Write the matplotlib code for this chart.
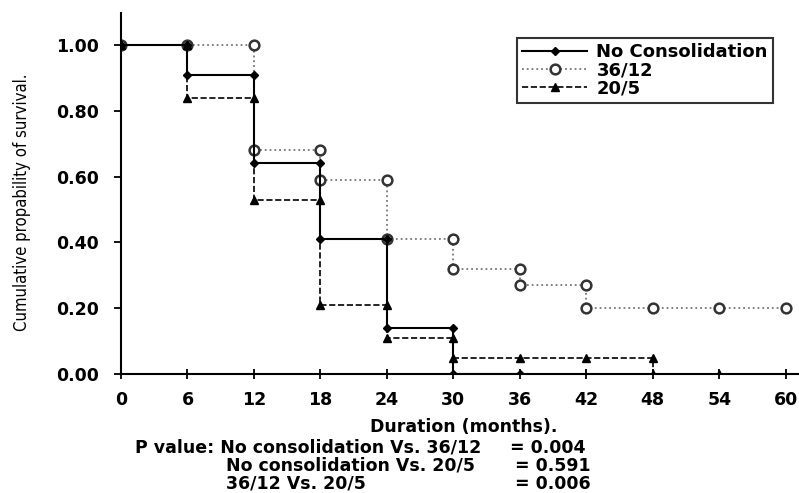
import matplotlib
matplotlib.use("Agg")
import matplotlib.pyplot as plt

# Kaplan-Meier style step curves (months, cumulative survival)
nc_t = [0, 6, 6, 12, 12, 18, 18, 24, 24, 30, 30, 36]
nc_s = [1.00, 1.00, 0.91, 0.91, 0.64, 0.64, 0.41, 0.41, 0.14, 0.14, 0.00, 0.00]

c36_t = [0, 6, 12, 12, 18, 18, 24, 24, 30, 30, 36, 36, 42, 42, 48, 54, 60]
c36_s = [1.00, 1.00, 1.00, 0.68, 0.68, 0.59, 0.59, 0.41, 0.41, 0.32, 0.32,
         0.27, 0.27, 0.20, 0.20, 0.20, 0.20]

c20_t = [0, 6, 6, 12, 12, 18, 18, 24, 24, 30, 30, 36, 42, 48, 48, 54]
c20_s = [1.00, 1.00, 0.84, 0.84, 0.53, 0.53, 0.21, 0.21, 0.11, 0.11, 0.05,
         0.05, 0.05, 0.05, 0.00, 0.00]

x_ticks = [0, 6, 12, 18, 24, 30, 36, 42, 48, 54, 60]
y_ticks = [0.0, 0.2, 0.4, 0.6, 0.8, 1.0]

pvals = [("P value: No consolidation Vs. 36/12", "= 0.004"),
         ("No consolidation Vs. 20/5", "= 0.591"),
         ("36/12 Vs. 20/5", "= 0.006")]

W, H = 799, 493
fig = plt.figure(figsize=(W / 100, H / 100), dpi=100)
ax = fig.add_axes([121/W, 1 - 374/H, 678/W, 361/H])

ax.plot(c36_t, c36_s, color="#777777", ls=":", lw=1.3, marker="o", ms=7,
        mfc="white", mec="#333333", mew=1.8, label="36/12", zorder=2)
ax.plot(c20_t, c20_s, color="black", ls="--", lw=1.2, marker="^", ms=5.5,
        label="20/5", zorder=3)
ax.plot(nc_t, nc_s, color="black", ls="-", lw=1.5, marker="D", ms=4.5,
        label="No Consolidation", zorder=4)

ax.set_xlim(0, 61.2)
ax.set_ylim(0, 1.097)
ax.set_xticks(x_ticks)
ax.set_yticks(y_ticks)
ax.set_yticklabels([f"{v:.2f}" for v in y_ticks])
for s in ["top", "right"]:
    ax.spines[s].set_visible(False)
for s in ["left", "bottom"]:
    ax.spines[s].set_linewidth(1.5)
ax.tick_params(axis="both", labelsize=12.5, width=1.3)
ax.tick_params(axis="x", direction="inout", length=7, pad=9)
ax.tick_params(axis="y", direction="out", length=5, pad=11)
for lab in ax.get_xticklabels() + ax.get_yticklabels():
    lab.set_fontweight("bold")

fig.text(464/W, 1 - 432/H, "Duration (months).", ha="center", va="baseline",
         fontsize=12.5, fontweight="bold")
fig.text(22/W, 1 - 202/H, "Cumulative propability of survival.",
         rotation=90, ha="center", va="center", fontsize=12,
         family="DejaVu Sans", stretch="condensed")

h, l = ax.get_legend_handles_labels()
order = [2, 0, 1]
leg = ax.legend([h[i] for i in order], [l[i] for i in order],
                loc="upper left", bbox_to_anchor=(517/W, 1 - 38/H),
                bbox_transform=fig.transFigure, frameon=True, fancybox=False,
                prop={"weight": "bold", "size": 13}, borderpad=0.3,
                labelspacing=0.0, handlelength=3.6, handletextpad=0.5,
                borderaxespad=0)
leg.get_frame().set_edgecolor("black")
leg.get_frame().set_linewidth(1.5)

ys = [453, 471, 489]
xs = [135, 226, 226]
xe = [510, 515, 515]
for (left, right), y, x0, x1 in zip(pvals, ys, xs, xe):
    fig.text(x0/W, 1 - y/H, left, ha="left", va="baseline",
             fontsize=12.5, fontweight="bold")
    fig.text(x1/W, 1 - y/H, right, ha="left", va="baseline",
             fontsize=12.5, fontweight="bold")

fig.savefig("out.png", dpi=100)
